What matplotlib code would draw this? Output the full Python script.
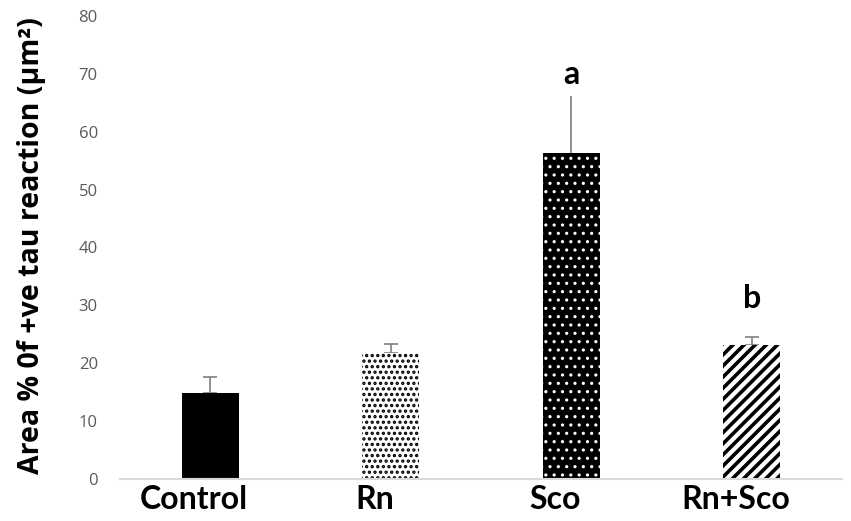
import matplotlib
matplotlib.use("Agg")
import matplotlib.pyplot as plt
import numpy as np

# values
groups = ["Control", "Rn", "Sco", "Rn+Sco"]
means = [14.8, 21.8, 56.4, 23.1]
errs = [2.8, 1.5, 9.7, 1.4]
letters = ["", "", "a", "b"]
letter_y = [0, 0, 67.4, 28.6]

plt.rcParams['font.family'] = ['Open Sans', 'DejaVu Sans']

fig = plt.figure(figsize=(8.51, 5.21), dpi=100)
ax = fig.add_axes([120/851, 1 - 479/521, 722/851, 463/521])

x = np.arange(len(groups))
w = 0.315

faces = ['black', 'white', 'black', 'white']
edges = ['black', 'black', 'white', 'black']
hatches = [None, '...', '..', '///']
hlw = [1.0, 1.6, 1.1, 2.6]

for i in range(len(groups)):
    with plt.rc_context({'hatch.linewidth': hlw[i], 'hatch.color': edges[i]}):
        ax.bar(x[i], means[i], width=w, color=faces[i], edgecolor=edges[i],
               hatch=hatches[i], linewidth=0, zorder=2)
    ax.errorbar(x[i], means[i], yerr=[[0], [errs[i]]], fmt='none', ecolor='#7f7f7f',
                elinewidth=1.2, capsize=0 if groups[i] == 'Sco' else 5, capthick=1.2, zorder=1)
    if letters[i]:
        ax.text(x[i], letter_y[i], letters[i], ha='center', va='bottom',
                fontsize=23, fontweight='bold', family=['Lato', 'DejaVu Sans'])

ax.set_xlim(-0.5, 3.5)
ax.set_ylim(0, 80)
ax.set_yticks(range(0, 81, 10))
# labels sit a little left of the bar centres in the original (ticks are hidden)
ax.set_xticks(x - 0.09)
ax.set_xticklabels(groups, fontsize=23, fontweight='bold', family=['Lato', 'DejaVu Sans'])
ax.tick_params(axis='y', length=0, labelcolor='#595959', labelsize=12, pad=16)
ax.tick_params(axis='x', length=0, pad=4)
for s in ['top', 'right', 'left']:
    ax.spines[s].set_visible(False)
ax.spines['bottom'].set_color('#d9d9d9')
ax.spines['bottom'].set_linewidth(1.5)

ax.set_ylabel("Area % 0f +ve tau reaction (μm²)", fontsize=20.5, fontweight='bold')
ax.yaxis.set_label_coords(-0.103, 0.505)

fig.savefig("out.png", dpi=100)
